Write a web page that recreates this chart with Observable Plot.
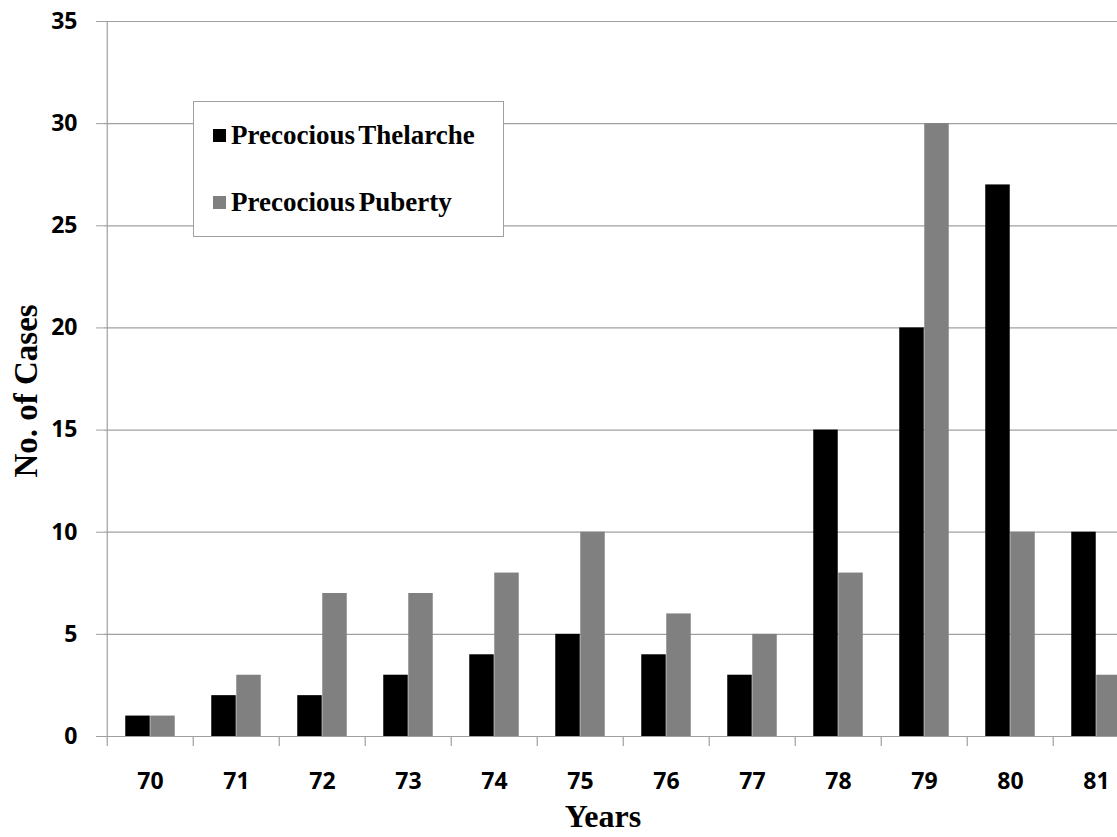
<!DOCTYPE html>
<html>
<head>
<meta charset="utf-8">
<script src="https://cdn.jsdelivr.net/npm/d3@7"></script>
<script src="https://cdn.jsdelivr.net/npm/@observablehq/plot@0.6"></script>
<style>
  html, body { margin: 0; padding: 0; background: white; overflow: hidden; }
  #chart { position: relative; width: 1117px; height: 837px; }
  #chart svg { display: block; max-width: none; }
  .legend {
    position: absolute; left: 193px; top: 101px; width: 311px; height: 136px;
    border: 1.5px solid #a0a0a0; background: white; box-sizing: border-box;
    font-family: "Liberation Serif", "Times New Roman", serif; font-weight: bold; font-size: 27px;
  }
  .legend .row { position: absolute; left: 19px; display: flex; align-items: center; white-space: nowrap; word-spacing: -3px; }
  .legend .sw { width: 13px; height: 13px; margin-right: 5px; }
</style>
</head>
<body>
<div id="chart"></div>
<script>
// Cases per year, 1970–1981
const years = ["70", "71", "72", "73", "74", "75", "76", "77", "78", "79", "80", "81"];
const thelarche = [1, 2, 2, 3, 4, 5, 4, 3, 15, 20, 27, 10];
const puberty = [1, 3, 7, 7, 8, 10, 6, 5, 8, 30, 10, 3];
const yTicks = [0, 5, 10, 15, 20, 25, 30, 35];
const seriesNames = ["Precocious Thelarche", "Precocious Puberty"];
const seriesColors = ["#000000", "#808080"];

const rows = years.map((year, i) => ({year, thelarche: thelarche[i], puberty: puberty[i]}));

// Layout: the plot area runs past the right edge of the page
const frameLeft = 104, frameTop = 21, frameBottom = 736;
const bw = 86.52;                  // width of one year band
const groupFrac = 0.578;           // share of the band used by the pair of bars
const barW = bw * groupFrac / 2;
const pad = (bw - 2 * barW) / 2;
const gridColor = "#a0a0a0";

const chart = Plot.plot({
  width: 1117,
  height: 837,
  marginLeft: frameLeft,
  marginTop: frameTop,
  marginBottom: 837 - frameBottom,
  marginRight: 0,
  style: {background: "white", overflow: "hidden"},
  x: {type: "band", domain: years, range: [frameLeft, frameLeft + years.length * bw], padding: 0, label: null},
  y: {domain: [0, 35], range: [frameBottom, frameTop], label: null},
  marks: [
    Plot.gridY(yTicks, {stroke: gridColor, strokeOpacity: 1, strokeWidth: 1.2}),
    Plot.ruleX([years[0]], {dx: -bw / 2, y1: 0, y2: 35, stroke: gridColor, strokeWidth: 1.2}),
    // tick marks on the category boundaries
    Plot.ruleX(years, {dx: -bw / 2, y1: 0, y2: 0, insetBottom: -10, stroke: gridColor, strokeWidth: 1.2}),
    Plot.barY(rows, {x: "year", y: "thelarche", fill: seriesColors[0], insetLeft: pad, insetRight: bw - pad - barW}),
    Plot.barY(rows, {x: "year", y: "puberty", fill: seriesColors[1], insetLeft: pad + barW, insetRight: pad}),
    Plot.axisY(yTicks, {
      tickSize: 8, tickPadding: 19, stroke: gridColor, color: "black", label: null,
      fontSize: 23, fontWeight: "bold", fontFamily: "Open Sans"
    }),
    Plot.axisX({
      tickSize: 0, tickPadding: 36, color: "black", label: null,
      fontSize: 23, fontWeight: "bold", fontFamily: "Open Sans"
    }),
    Plot.text(["No. of Cases"], {
      frameAnchor: "left", rotate: -90, dx: -78, dy: 12, textAnchor: "middle", lineAnchor: "middle",
      fontFamily: "Liberation Serif", fontWeight: "bold", fontSize: 33, fill: "black"
    }),
    Plot.text(["Years"], {
      frameAnchor: "bottom", dx: -8, dy: 80, textAnchor: "middle", lineAnchor: "middle",
      fontFamily: "Liberation Serif", fontWeight: "bold", fontSize: 32, fill: "black"
    })
  ]
});

const holder = document.getElementById("chart");
holder.appendChild(chart);

// Legend box
const legend = document.createElement("div");
legend.className = "legend";
seriesNames.forEach((name, i) => {
  const row = document.createElement("div");
  row.className = "row";
  row.style.top = (i === 0 ? 18 : 85) + "px";
  const sw = document.createElement("span");
  sw.className = "sw";
  sw.style.background = seriesColors[i];
  const label = document.createElement("span");
  label.textContent = name;
  row.appendChild(sw);
  row.appendChild(label);
  legend.appendChild(row);
});
holder.appendChild(legend);
</script>
</body>
</html>
